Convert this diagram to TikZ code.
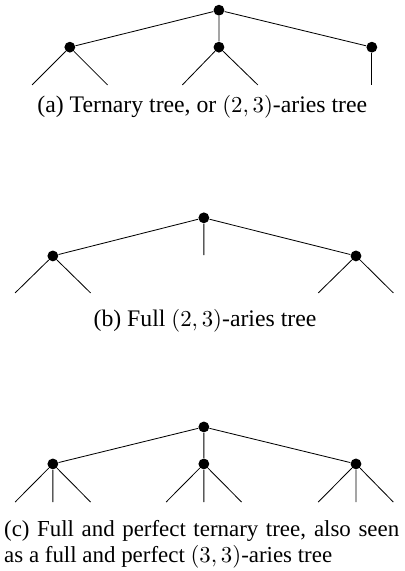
\documentclass[tikz,border=0pt]{standalone}
\usepackage[no-math]{fontspec}
\setmainfont{Liberation Serif}
\tikzset{
	vertex/.style={circle, fill=black, inner sep=0pt, minimum size=5.2pt},
	caption/.style={inner sep=0pt, font=\fontsize{11.4}{12.5}\selectfont}
}

\begin{document}
\begin{tikzpicture}[x=0.637cm, y=0.637cm]
			%%%%% START %%%%%
			\useasboundingbox (0, 0) rectangle (10.728, -15.126);
			
			%% (a)
			\node[vertex] (a) at (5.80, -0.27) {};
			\node[vertex] (a1) at (1.85, -1.25) {};
			\node[vertex] (a2) at (5.80, -1.25) {};
			\node[vertex] (a3) at (9.85, -1.25) {};
			\coordinate (a11) at (0.85, -2.25);
			\coordinate (a12) at (2.85, -2.25);
			\coordinate (a21) at (4.83, -2.25);
			\coordinate (a22) at (6.83, -2.25);
			\coordinate (a31) at (9.85, -2.25);
			
			\draw (a) -- (a1) (a) -- (a2) (a) -- (a3);
			\draw (a1) -- (a11) (a1) -- (a12);
			\draw (a2) -- (a21) (a2) -- (a22);
			\draw (a3) -- (a31);
			
			\node[caption, anchor=base] (capa) at (5.36, -2.98) {(a) Ternary tree, or $(2,3)$-aries tree};
			
			%% (b)
			\node[vertex] (b) at (5.40, -5.77) {};
			\node[vertex] (b1) at (1.40, -6.78) {};
			\coordinate (b2) at (5.40, -6.76);
			\node[vertex] (b3) at (9.43, -6.78) {};
			\coordinate (b11) at (0.40, -7.76);
			\coordinate (b12) at (2.40, -7.76);
			\coordinate (b31) at (8.43, -7.76);
			\coordinate (b32) at (10.42, -7.76);
			
			\draw (b) -- (b1) (b) -- (b2) (b) -- (b3);
			\draw (b1) -- (b11) (b1) -- (b12);
			\draw (b3) -- (b31) (b3) -- (b32);
			
			\node[caption, anchor=base] (capb) at (5.43, -8.64) {(b) Full $(2,3)$-aries tree};
			
			%% (c)
			\node[vertex] (c) at (5.40, -11.31) {};
			\node[vertex] (c1) at (1.40, -12.29) {};
			\node[vertex] (c2) at (5.40, -12.29) {};
			\node[vertex] (c3) at (9.43, -12.29) {};
			\coordinate (c11) at (0.40, -13.30);
			\coordinate (c12) at (1.40, -13.30);
			\coordinate (c13) at (2.40, -13.30);
			\coordinate (c21) at (4.40, -13.30);
			\coordinate (c22) at (5.40, -13.30);
			\coordinate (c23) at (6.40, -13.30);
			\coordinate (c31) at (8.43, -13.30);
			\coordinate (c32) at (9.43, -13.30);
			\coordinate (c33) at (10.42, -13.30);
			
			\draw (c) -- (c1) (c) -- (c2) (c) -- (c3);
			\draw (c1) -- (c11) (c1) -- (c12) (c1) -- (c13);
			\draw (c2) -- (c21) (c2) -- (c22) (c2) -- (c23);
			\draw (c3) -- (c31) (c3) -- (c32) (c3) -- (c33);
			
			\node[caption, font=\fontsize{11}{12.5}\selectfont, anchor=base west, align=justify, text width=6.665cm] (capc) at (0.10, -14.20) {(c) Full and perfect ternary tree, also seen\linebreak as a full and perfect $(3,3)$-aries tree};
			
			%%%%% END %%%%%
\end{tikzpicture}
\end{document}
